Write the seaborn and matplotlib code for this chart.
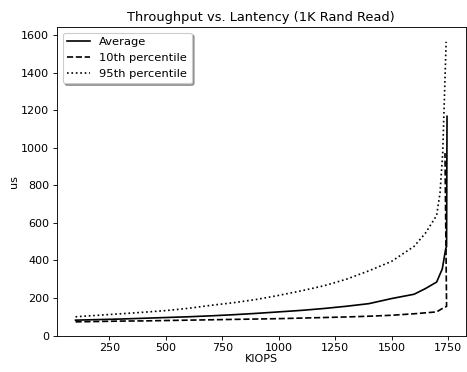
import matplotlib
matplotlib.use("Agg")
import matplotlib.pyplot as plt
import seaborn as sns
import pandas as pd

# values
avg_kiops = [100, 200, 300, 400, 500, 600, 700, 800, 900, 1000, 1100, 1200,
             1300, 1400, 1500, 1600, 1650, 1700, 1725, 1740, 1744, 1746]
avg_us = [82, 85, 88, 92, 96, 100, 105, 111, 118, 126, 134, 144,
          156, 170, 197, 220, 250, 285, 355, 461, 475, 1168]

p10_kiops = [100, 200, 300, 400, 500, 600, 700, 800, 900, 1000, 1100, 1200,
             1300, 1400, 1500, 1600, 1700, 1732, 1744, 1737]
p10_us = [73, 75, 77, 78, 80, 82, 84, 86, 88, 90, 93, 96,
          99, 103, 108, 116, 126, 149, 155, 972]

p95_kiops = [100, 200, 300, 400, 500, 600, 700, 800, 900, 1000, 1100, 1200,
             1300, 1400, 1500, 1600, 1650, 1700, 1715, 1727, 1742]
p95_us = [100, 108, 116, 124, 133, 145, 161, 175, 192, 214, 238, 265,
          300, 345, 395, 475, 545, 640, 760, 975, 1565]

series = [
    ("Average", avg_kiops, avg_us, "-"),
    ("10th percentile", p10_kiops, p10_us, "--"),
    ("95th percentile", p95_kiops, p95_us, ":"),
]

dpi = 80
fig, ax = plt.subplots(figsize=(467 / dpi, 372 / dpi), dpi=dpi)

for name, xs, ys, ls in series:
    df = pd.DataFrame({"KIOPS": xs, "us": ys})
    sns.lineplot(data=df, x="KIOPS", y="us", ax=ax, color="black",
                 linestyle=ls, label=name, sort=False, estimator=None)

ax.set_ylim(0, 1645)
ax.set_title("Throughput vs. Lantency (1K Rand Read)", fontsize=11.7, pad=5)
ax.set_xlabel("KIOPS", labelpad=1)
ax.set_ylabel("us", labelpad=2)
ax.legend(loc="upper left", shadow=True, fontsize=10.3)

plt.subplots_adjust(left=0.122, right=0.997, bottom=0.098, top=0.928)
plt.savefig("out.png", dpi=dpi)
plt.close()
